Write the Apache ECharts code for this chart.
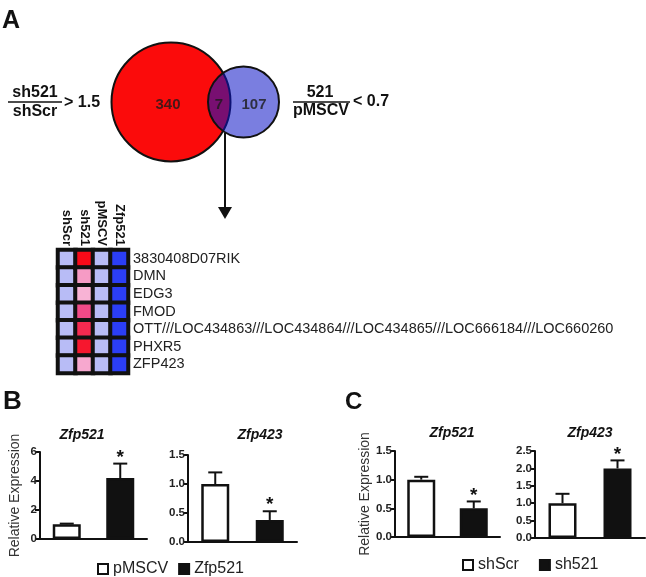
<!DOCTYPE html>
<html><head><meta charset="utf-8">
<script src="https://cdn.jsdelivr.net/npm/echarts@6/dist/echarts.min.js"></script>
<style>html,body{margin:0;padding:0;background:#fff;}#c{width:646px;height:577px;}</style>
</head><body><div id="c"></div>
<script>
// ---------- DATA ----------
const vennSetA = 'sh521/shScr > 1.5';
const vennSetB = '521/pMSCV < 0.7';
const vennCounts = [340, 7, 107]; // only A, A∩B, only B

const heatCols = ['shScr', 'sh521', 'pMSCV', 'Zfp521'];
const heatRows = ['3830408D07RIK', 'DMN', 'EDG3', 'FMOD',
  'OTT///LOC434863///LOC434864///LOC434865///LOC666184///LOC660260', 'PHXR5', 'ZFP423'];
const heatShScr  = [-1, -1, -1, -1, -1, -1, -1];
const heatSh521  = [3, 1.1, 0.65, 2.0, 2.5, 2.8, 0.9];
const heatPMSCV  = [-1, -1, -1, -1, -1, -1, -1];
const heatZfp521 = [-3, -3, -3, -3, -3, -3, -3];

const bCats = ['pMSCV', 'Zfp521'];
const bZfp521Mean = [1.02, 4.2];
const bZfp521Err  = [0.04, 1.0];
const bZfp423Mean = [1.0, 0.38];
const bZfp423Err  = [0.2, 0.15];
const bSig = [0, 1];

const cCats = ['shScr', 'sh521'];
const cZfp521Mean = [1.0, 0.5];
const cZfp521Err  = [0.05, 0.12];
const cZfp423Mean = [1.0, 2.0];
const cZfp423Err  = [0.27, 0.23];
const cSig = [0, 1];

const ticksB1 = [0, 2, 4, 6];
const ticksB2 = [0, 0.5, 1.0, 1.5];
const ticksC1 = [0, 0.5, 1.0, 1.5];
const ticksC2 = [0, 0.5, 1.0, 1.5, 2.0, 2.5];

// ---------- BUILD ----------
const FONT = 'Liberation Sans, Arial, Helvetica, sans-serif';
const heatCols2 = [heatShScr, heatSh521, heatPMSCV, heatZfp521];
const heatData = [];
heatCols2.forEach((col, ci) => col.forEach((v, ri) => heatData.push([ci, ri, v])));

const charts = [
  { grid: { left: 40, top: 452, width: 107, height: 87 }, cats: bCats, mean: bZfp521Mean, err: bZfp521Err, sig: bSig, ticks: ticksB1, dec: 0, yname: 'Relative Expression', gap: 18 },
  { grid: { left: 188, top: 455, width: 109, height: 87 }, cats: bCats, mean: bZfp423Mean, err: bZfp423Err, sig: bSig, ticks: ticksB2, dec: 1 },
  { grid: { left: 395, top: 451, width: 105, height: 86 }, cats: cCats, mean: cZfp521Mean, err: cZfp521Err, sig: cSig, ticks: ticksC1, dec: 1, yname: 'Relative Expression', gap: 21 },
  { grid: { left: 535, top: 451, width: 110, height: 87 }, cats: cCats, mean: cZfp423Mean, err: cZfp423Err, sig: cSig, ticks: ticksC2, dec: 1 }
];

const grids = [{ left: 58, top: 250, width: 70, height: 123, show: true, backgroundColor: '#111', borderColor: '#111', borderWidth: 2 }];
const xAxes = [{
  gridIndex: 0, type: 'category', position: 'top', data: heatCols,
  axisLine: { show: false }, axisTick: { show: false },
  axisLabel: { interval: 0, rotate: 90, margin: 4, fontSize: 13, fontWeight: 'bold', color: '#111', fontFamily: FONT }
}];
const yAxes = [{
  gridIndex: 0, type: 'category', position: 'right', inverse: true, data: heatRows,
  axisLine: { show: false }, axisTick: { show: false },
  axisLabel: { interval: 0, margin: 5, fontSize: 14.5, color: '#222', fontFamily: FONT }
}];
const series = [{
  type: 'heatmap', xAxisIndex: 0, yAxisIndex: 0, data: heatData,
  itemStyle: { borderColor: '#111', borderWidth: 4 }, silent: true
}];

function errRender(params, api) {
  const x = api.value(0), m = api.value(1), e = api.value(2), s = api.value(3);
  const p0 = api.coord([x, m]), p1 = api.coord([x, m + e]);
  const half = 7;
  const ch = [
    { type: 'line', shape: { x1: p0[0], y1: p0[1], x2: p1[0], y2: p1[1] }, style: { stroke: '#111', lineWidth: 2 } },
    { type: 'line', shape: { x1: p1[0] - half, y1: p1[1], x2: p1[0] + half, y2: p1[1] }, style: { stroke: '#111', lineWidth: 2 } }
  ];
  if (s) ch.push({ type: 'text', style: { text: '*', x: p1[0], y: p1[1] - 6, align: 'center', verticalAlign: 'middle', fontSize: 19, fontWeight: 'bold', fill: '#111', fontFamily: FONT } });
  return { type: 'group', children: ch };
}

charts.forEach((c, i) => {
  const gi = i + 1;
  grids.push(c.grid);
  xAxes.push({
    gridIndex: gi, type: 'category', data: c.cats,
    axisLine: { lineStyle: { color: '#111', width: 2 } }, axisTick: { show: false }, axisLabel: { show: false }
  });
  const t = c.ticks;
  yAxes.push({
    gridIndex: gi, type: 'value', min: t[0], max: t[t.length - 1], interval: t[1] - t[0],
    name: c.yname || '', nameLocation: 'middle', nameGap: c.gap || 0,
    nameTextStyle: { fontSize: 14, color: '#333', fontFamily: FONT },
    axisLine: { show: true, lineStyle: { color: '#111', width: 2 } },
    axisTick: { show: true, length: 5, lineStyle: { color: '#111', width: 2 } },
    axisLabel: { margin: 3, fontSize: 11.5, fontWeight: 'bold', color: '#222', fontFamily: FONT, formatter: v => v.toFixed(c.dec) },
    splitLine: { show: false }
  });
  series.push({
    name: c.cats[0], type: 'bar', xAxisIndex: gi, yAxisIndex: gi, barWidth: 28, barGap: '-100%',
    data: [c.mean[0], '-'], itemStyle: { color: '#fff', borderColor: '#111', borderWidth: 2.5 }, silent: true
  });
  series.push({
    name: c.cats[1], type: 'bar', xAxisIndex: gi, yAxisIndex: gi, barWidth: 28, barGap: '-100%',
    data: ['-', c.mean[1]], itemStyle: { color: '#111', borderColor: '#111', borderWidth: 2.5 }, silent: true
  });
  series.push({
    type: 'custom', xAxisIndex: gi, yAxisIndex: gi, renderItem: errRender, z: 5, silent: true,
    encode: { x: 0, y: 1 },
    data: c.mean.map((m, k) => [k, m, c.err[k], c.sig[k]])
  });
});

// Venn (hidden axes, pixel-unit layout)
grids.push({ left: 100, top: 42, width: 200, height: 120 });
xAxes.push({ gridIndex: 5, type: 'value', min: 0, max: 200, show: false });
yAxes.push({ gridIndex: 5, type: 'value', min: 0, max: 120, show: false });
const vennLayout = { a: [71, 60], b: [143.5, 60], labels: [[68, 57], [119, 57], [154, 57]] };
series.push({
  name: vennSetA, type: 'scatter', xAxisIndex: 5, yAxisIndex: 5, symbolSize: 119, z: 2, silent: true,
  data: [vennLayout.a], itemStyle: { color: '#fb0b0b', borderColor: '#111', borderWidth: 2, opacity: 1 }
});
series.push({
  name: vennSetB, type: 'scatter', xAxisIndex: 5, yAxisIndex: 5, symbolSize: 71, z: 3, silent: true,
  data: [vennLayout.b], itemStyle: { color: 'rgba(11,18,198,0.545)', borderColor: '#111', borderWidth: 2, opacity: 1 }
});
series.push({
  type: 'scatter', xAxisIndex: 5, yAxisIndex: 5, symbolSize: 1, z: 4, silent: true,
  data: vennCounts.map((v, k) => [vennLayout.labels[k][0], vennLayout.labels[k][1], v]),
  itemStyle: { color: 'rgba(0,0,0,0)' },
  label: { show: true, position: 'inside', formatter: p => p.value[2], fontSize: 15, fontWeight: 'bold', color: '#1a1a1a', fontFamily: FONT }
});

function txt(text, x, y, size, align, extra) {
  return Object.assign({ type: 'text', silent: true, style: Object.assign({ text, x, y, fontSize: size, fontWeight: 'bold', fontFamily: FONT, fill: '#111', align: align || 'left', verticalAlign: 'middle' }, extra || {}) });
}
function hline(x1, x2, y, w) {
  return { type: 'line', silent: true, shape: { x1, y1: y, x2, y2: y }, style: { stroke: '#111', lineWidth: w || 1.5 } };
}

const graphic = [
  txt('A', 2, 21, 25),
  txt('B', 3, 402, 26),
  txt('C', 345, 402, 24),
  txt('sh521', 35, 93, 16, 'center'),
  hline(8, 62, 102),
  txt('shScr', 35, 112, 16, 'center'),
  txt('> 1.5', 64, 103, 16),
  txt('521', 320, 93, 16, 'center'),
  hline(293, 350, 102),
  txt('pMSCV', 321, 111, 16, 'center'),
  txt('< 0.7', 353, 102, 16),
  { type: 'line', silent: true, shape: { x1: 225, y1: 133, x2: 225, y2: 210 }, style: { stroke: '#111', lineWidth: 2 } },
  { type: 'polygon', silent: true, shape: { points: [[218, 207], [232, 207], [225, 219]] }, style: { fill: '#111' } },
  txt('Zfp521', 82, 435, 14, 'center', { fontStyle: 'italic' }),
  txt('Zfp423', 260, 435, 14, 'center', { fontStyle: 'italic' }),
  txt('Zfp521', 452, 433, 14, 'center', { fontStyle: 'italic' }),
  txt('Zfp423', 590, 433, 14, 'center', { fontStyle: 'italic' })
];

const option = {
  animation: false,
  textStyle: { fontFamily: FONT },
  grid: grids, xAxis: xAxes, yAxis: yAxes, series,
  visualMap: [{
    type: 'continuous', show: false, seriesIndex: 0, dimension: 2, min: -3, max: 3,
    inRange: { color: ['#2b3ef6', '#7078f0', '#b8bcf6', '#fbd0e6', '#f7a4cc', '#f04a88', '#f80a18'] }
  }],
  legend: [
    { data: bCats, left: 92, top: 556, itemWidth: 10, itemHeight: 10, itemGap: 10, icon: 'rect', selectedMode: false,
      textStyle: { fontSize: 16, color: '#222', fontFamily: FONT } },
    { data: cCats, left: 457, top: 552, itemWidth: 10, itemHeight: 10, itemGap: 20, icon: 'rect', selectedMode: false,
      textStyle: { fontSize: 16, color: '#222', fontFamily: FONT } }
  ],
  graphic
};
const chart = echarts.init(document.getElementById('c'), null, { renderer: 'canvas' });
chart.setOption(option);
</script></body></html>
